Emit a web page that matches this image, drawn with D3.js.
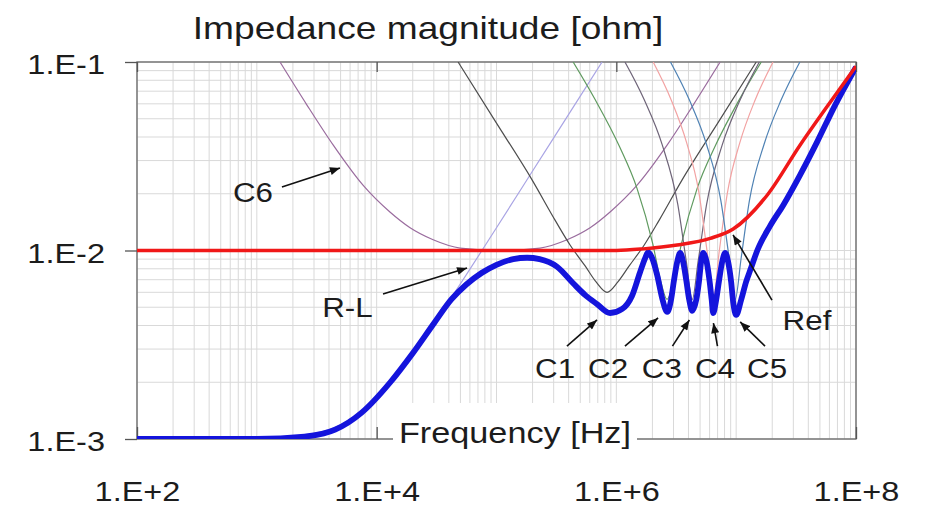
<!DOCTYPE html>
<html>
<head>
<meta charset="utf-8">
<script src="https://cdn.jsdelivr.net/npm/d3@7"></script>
<style>
    html, body { margin: 0; padding: 0; background: #fff; }
    svg { display: block; }
    text { font-family: "Liberation Sans", Arial, sans-serif; fill: #1c1c1c; }
</style>
</head>
<body>
<script>
(function(){

    var xTickValues = [1e2, 1e4, 1e6, 1e8];
    var xTickLabels = ["1.E+2", "1.E+4", "1.E+6", "1.E+8"];
    var yTickValues = [1e-3, 1e-2, 1e-1];
    var yTickLabels = ["1.E-3", "1.E-2", "1.E-1"];

    // [frequency (Hz), impedance (ohm)]
    var totalCurve = [[1e2,1.0e-3],[1e3,1.0e-3],[2.5e3,1.03e-3],[4.5e3,1.12e-3],[7.5e3,1.38e-3],
        [1.3e4,2.0e-3],[2.0e4,2.85e-3],[3.0e4,4.1e-3],[4.2e4,5.5e-3],[5.6e4,6.6e-3],
        [7.5e4,7.6e-3],[1.0e5,8.4e-3],[1.38e5,9.0e-3],[1.8e5,9.15e-3],[2.29e5,9.0e-3],
        [3.2e5,8.2e-3],[4.36e5,6.7e-3],
        [5.5e5,5.8e-3],[6.9e5,5.2e-3],[8.87e5,4.66e-3],[1.12e6,4.9e-3],[1.35e6,5.74e-3],
        [1.57e6,7.6e-3],[1.74e6,9.12e-3],[1.84e6,9.8e-3],[1.99e6,9.12e-3],[2.19e6,7.41e-3],
        [2.41e6,5.6e-3],[2.66e6,4.72e-3],[2.86e6,5.46e-3],[3.03e6,6.97e-3],[3.22e6,8.7e-3],
        [3.41e6,9.7e-3],[3.61e6,8.7e-3],[3.83e6,6.97e-3],[4.06e6,5.46e-3],[4.30e6,4.78e-3],
        [4.64e6,5.46e-3],[4.91e6,6.97e-3],[5.10e6,8.7e-3],[5.31e6,9.7e-3],[5.67e6,8.7e-3],
        [6.01e6,6.81e-3],[6.25e6,5.46e-3],[6.43e6,4.66e-3],[6.81e6,5.46e-3],[7.21e6,6.97e-3],
        [7.64e6,8.7e-3],[8.09e6,9.7e-3],[8.57e6,8.7e-3],[9.08e6,6.81e-3],[9.44e6,5.33e-3],
        [1.0e7,4.55e-3],[1.10e7,5.46e-3],[1.21e7,6.81e-3],[1.33e7,8.07e-3],[1.50e7,1.0e-2],
        [1.92e7,1.35e-2],[2.47e7,1.74e-2],[3.42e7,2.52e-2],[4.74e7,3.77e-2],[6.70e7,5.91e-2],
        [1e8,9.4e-2]];

    var refCurve = [[1e2,1.0e-2],[1e6,1.0e-2],[1.68e6,1.02e-2],[3.22e6,1.07e-2],[6.07e6,1.16e-2],
        [9.44e6,1.3e-2],[1.82e7,1.97e-2],[3.42e7,3.63e-2],[6.46e7,6.45e-2],[1e8,9.5e-2]];

    var rlCurve = [[1e2,1.0e-3],[1e3,1.01e-3],[3e3,1.07e-3],[6e3,1.27e-3],[1e4,1.65e-3],
        [2e4,2.82e-3],[4e4,5.37e-3],[1e5,1.32e-2],[2e5,2.64e-2],[4e5,5.27e-2],[7.6e5,0.1]];

    var c6Curve = [[1.56e3,0.1],[2.62e3,0.0591],[4.33e3,0.0363],[7.69e3,0.0222],[1.29e4,0.016],
        [1.90e4,0.0132],[2.96e4,0.0114],[4.97e4,0.0103],[1.07e5,0.0100],[2.31e5,0.0103],
        [3.88e5,0.0114],[6.04e5,0.0132],[8.87e5,0.016],[1.49e6,0.0222],[2.66e6,0.0363],
        [4.38e6,0.0591],[7.35e6,0.1]];

    var c1Curve = [[4.78e4,0.1],[9.73e4,0.0487],[1.98e5,0.0237],[3.08e5,0.0145],[4.11e5,0.0107],
        [5.49e5,8.28e-3],[6.78e5,6.81e-3],[8.37e5,6.0e-3],[1.03e6,6.81e-3],[1.28e6,8.28e-3],
        [1.71e6,0.0107],[2.28e6,0.0145],[3.54e6,0.0237],[7.21e6,0.0487],[1.47e7,0.1]];

    var c2Curve = [[4.36e5,0.1],[6.67e5,0.063],[1.06e6,0.0357],[1.49e6,0.0213],[2.01e6,0.0109],
        [2.37e6,6.7e-3],[2.65e6,5.5e-3],[2.98e6,6.7e-3],[3.50e6,0.0109],[4.72e6,0.0213],
        [6.67e6,0.0357],[1.06e7,0.063],[1.62e7,0.1]];

    var c3Curve = [[1.18e6,0.1],[1.71e6,0.063],[2.42e6,0.0362],[3.26e6,0.0175],[3.83e6,8.8e-3],
        [4.30e6,5.5e-3],[4.82e6,8.8e-3],[5.66e6,0.0175],[7.64e6,0.0362],[1.08e7,0.063],[1.56e7,0.1]];

    var c4Curve = [[2.03e6,0.1],[2.87e6,0.0629],[3.87e6,0.0371],[4.88e6,0.0204],[5.73e6,9.8e-3],
        [6.43e6,5.5e-3],[7.21e6,9.8e-3],[8.47e6,0.0204],[1.07e7,0.0371],[1.44e7,0.0629],[2.03e7,0.1]];

    var c5Curve = [[2.83e6,0.1],[4.09e6,0.0624],[5.65e6,0.0366],[7.45e6,0.0184],[8.75e6,9.1e-3],
        [9.82e6,5.5e-3],[1.10e7,9.1e-3],[1.29e7,0.0184],[1.71e7,0.0366],[2.36e7,0.0624],[3.40e7,0.1]];

    // callouts: label, where the text sits, arrow start, arrow tip (all in data units)
    var calloutLabels = ["C6", "R-L", "Ref", "C1", "C2", "C3", "C4", "C5"];
    var calloutText = [[929,0.0181],[5.71e3,4.44e-3],[3.90e7,3.78e-3],[3.08e5,2.11e-3],
        [8.53e5,2.11e-3],[2.40e6,2.11e-3],[6.65e6,2.11e-3],[1.81e7,2.11e-3]];
    var calloutFrom = [[1.62e3,0.0217],[1.13e4,5.88e-3],[1.99e7,5.46e-3],[3.87e5,3.11e-3],
        [1.18e6,3.11e-3],[2.94e6,3.11e-3],[6.98e6,3.11e-3],[1.74e7,3.11e-3]];
    var calloutTo = [[4.94e3,0.0274],[5.68e4,8.07e-3],[9.42e6,0.0121],[6.90e5,4.28e-3],
        [2.23e6,4.39e-3],[4.07e6,4.28e-3],[6.46e6,4.12e-3],[1.08e7,4.18e-3]];

    var thinCurves = [rlCurve, c6Curve, c1Curve, c2Curve, c3Curve, c4Curve, c5Curve];
    var thinColors = ["#a9a4e4", "#9a6c9e", "#4d4d4d", "#5f9a5f", "#6e6478", "#f2a2a2", "#4f82b4"];

    var width = 928,
        height = 509,
        plotLeft = 137,
        plotRight = 856,
        plotTop = 62,
        plotBottom = 439,
        stretchX = 1.16;

    var svg = d3.select("body")
        .append("svg")
        .attr("width", width)
        .attr("height", height);

    var x = d3.scaleLog().domain([1e2, 1e8]).range([plotLeft, plotRight]);
    var y = d3.scaleLog().domain([1e-3, 1e-1]).range([plotBottom, plotTop]);

    var defs = svg.append("defs");
    defs.append("clipPath").attr("id", "plotClip")
        .append("rect")
        .attr("x", plotLeft).attr("y", plotTop)
        .attr("width", plotRight - plotLeft).attr("height", plotBottom - plotTop);
    defs.append("marker")
        .attr("id", "arrow")
        .attr("viewBox", "0 0 10 8")
        .attr("refX", 10).attr("refY", 4)
        .attr("markerWidth", 11).attr("markerHeight", 8)
        .attr("markerUnits", "userSpaceOnUse")
        .attr("orient", "auto")
        .append("path")
        .attr("d", "M0,0L10,4L0,8Z")
        .attr("fill", "#111");

    // log grid
    var xGrid = x.ticks(), yGrid = y.ticks();

    var grid = svg.append("g").attr("class", "grid");
    grid.selectAll(".vgrid").data(xGrid).enter().append("line")
        .attr("x1", function(d) { return x(d); }).attr("x2", function(d) { return x(d); })
        .attr("y1", plotTop).attr("y2", plotBottom)
        .attr("stroke", "#d9d9d9").attr("stroke-width", 1);
    grid.selectAll(".hgrid").data(yGrid).enter().append("line")
        .attr("x1", plotLeft).attr("x2", plotRight)
        .attr("y1", function(d) { return y(d); }).attr("y2", function(d) { return y(d); })
        .attr("stroke", "#d9d9d9").attr("stroke-width", 1);

    svg.append("rect")
        .attr("x", plotLeft).attr("y", plotTop)
        .attr("width", plotRight - plotLeft).attr("height", plotBottom - plotTop)
        .attr("fill", "none").attr("stroke", "#666").attr("stroke-width", 1.3);

    var yAxis = d3.axisLeft(y)
        .tickValues(yTickValues)
        .tickFormat(function(d, i) { return yTickLabels[i]; })
        .tickSizeInner(12).tickSizeOuter(0).tickPadding(20);
    var gy = svg.append("g").attr("transform", "translate(" + plotLeft + ",0)").call(yAxis);

    var xAxis = d3.axisBottom(x)
        .tickValues(xTickValues)
        .tickFormat(function(d, i) { return xTickLabels[i]; })
        .tickSizeInner(-12).tickSizeOuter(0).tickPadding(42);
    var gx = svg.append("g").attr("transform", "translate(0," + plotBottom + ")").call(xAxis);

    var xTop = d3.axisTop(x)
        .tickValues(xTickValues)
        .tickFormat("")
        .tickSizeInner(-10).tickSizeOuter(0);
    var gt = svg.append("g").attr("transform", "translate(0," + plotTop + ")").call(xTop);

    [gx, gy, gt].forEach(function(g) {
        g.select(".domain").remove();
        g.selectAll(".tick line").attr("stroke", "#555").attr("stroke-width", 1.3);
        g.selectAll("text").style("font-size", "28px").attr("fill", "#1c1c1c")
            .style("font-family", "'Liberation Sans', Arial, sans-serif");
    });
    gy.selectAll("text").attr("dy", "0.42em");

    // axis title box sits on the bottom edge
    svg.append("rect")
        .attr("x", 393).attr("y", 403).attr("width", 244).attr("height", 60)
        .attr("fill", "#fff");
    svg.append("text")
        .attr("x", 515).attr("y", 443)
        .attr("text-anchor", "middle")
        .style("font-size", "29.5px")
        .text("Frequency [Hz]");

    var line = d3.line()
        .x(function(d) { return x(d[0]); })
        .y(function(d) { return y(d[1]); })
        .curve(d3.curveMonotoneX);

    var curves = svg.append("g").attr("clip-path", "url(#plotClip)");

    curves.selectAll(".thin")
        .data(thinCurves)
        .enter()
        .append("path")
        .attr("class", "thin")
        .attr("d", line)
        .attr("fill", "none")
        .attr("stroke", function(d, i) { return thinColors[i]; })
        .attr("stroke-width", 1.2);

    curves.append("path")
        .datum(totalCurve)
        .attr("d", line)
        .attr("fill", "none")
        .attr("stroke", "#1414dc")
        .attr("stroke-width", 5.8)
        .attr("stroke-linejoin", "round");

    curves.append("path")
        .datum(refCurve)
        .attr("d", line)
        .attr("fill", "none")
        .attr("stroke", "#f01818")
        .attr("stroke-width", 3.5);

    var callouts = svg.append("g").attr("class", "callouts");
    calloutLabels.forEach(function(label, i) {
        callouts.append("line")
            .attr("x1", x(calloutFrom[i][0])).attr("y1", y(calloutFrom[i][1]))
            .attr("x2", x(calloutTo[i][0])).attr("y2", y(calloutTo[i][1]))
            .attr("stroke", "#111").attr("stroke-width", 1.6)
            .attr("marker-end", "url(#arrow)");
        callouts.append("text")
            .attr("x", x(calloutText[i][0])).attr("y", y(calloutText[i][1]))
            .attr("text-anchor", "middle")
            .style("font-size", "27px")
            .text(label);
    });

    svg.append("text")
        .attr("x", 428).attr("y", 39)
        .attr("text-anchor", "middle")
        .style("font-size", "32px")
        .text("Impedance magnitude [ohm]");

    // the source picture is widened horizontally, so stretch every label to match
    svg.selectAll("text").each(function() {
        var w = this.getComputedTextLength();
        d3.select(this)
            .attr("textLength", w * stretchX)
            .attr("lengthAdjust", "spacingAndGlyphs");
    });

})();
</script>
</body>
</html>
